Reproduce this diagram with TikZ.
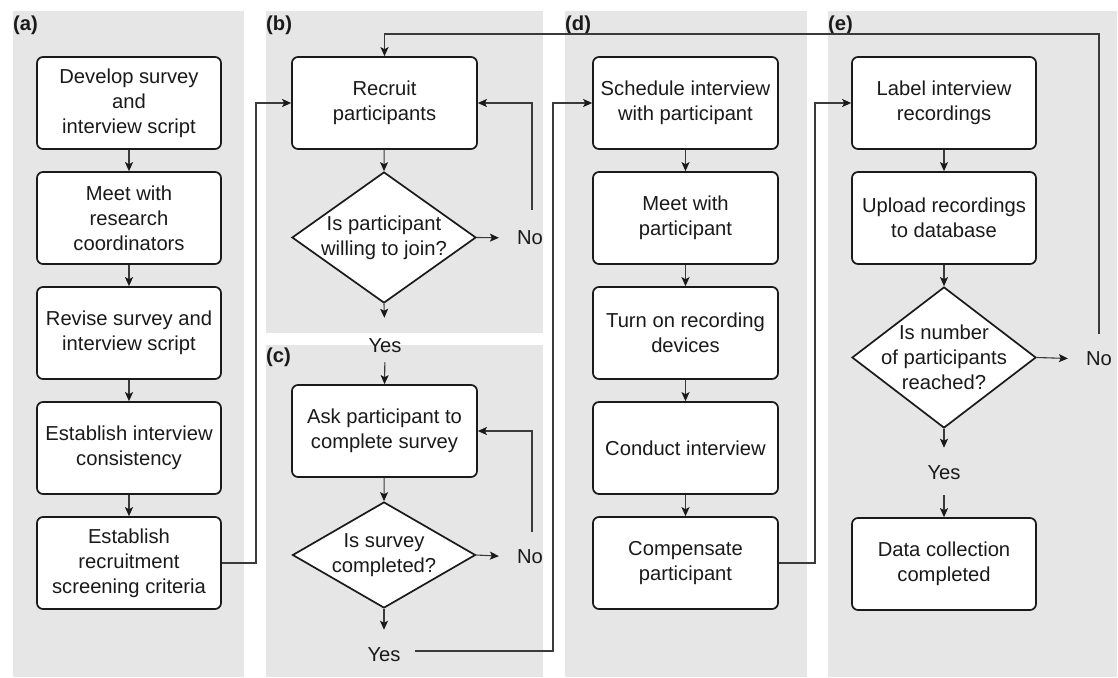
\documentclass[tikz,border=0pt]{standalone}
\usepackage{fontspec}
\setmainfont{Liberation Sans}
\usetikzlibrary{shapes.geometric,arrows.meta}
\definecolor{panelgray}{HTML}{E6E6E6}
\definecolor{conn}{HTML}{3A3A3A}
\definecolor{ink}{HTML}{1A1A1A}
\newcommand\myfs{\fontsize{20.2pt}{25pt}\selectfont}
\begin{document}
\begin{tikzpicture}[x=1pt,y=-1pt,
  panel/.style={fill=panelgray, draw=none},
  plabel/.style={anchor=west, inner sep=0pt, font=\myfs\bfseries, text=ink},
  box/.style={draw=ink, line width=1.7pt, rounded corners=6pt, fill=white,
    minimum width=184pt, minimum height=92pt, align=center, inner sep=0pt,
    font=\myfs, text=ink},
  dia/.style={diamond, draw=ink, line width=1.7pt, fill=white, inner sep=0pt},
  dtext/.style={align=center, inner sep=0pt, font=\myfs, text=ink},
  lbl/.style={inner sep=0pt, font=\myfs, text=ink},
  arr/.style={draw=conn, line width=1.1pt, -{Stealth[length=9pt,width=8pt,inset=2pt,color=ink]}},
  ln/.style={draw=conn, line width=1.1pt}
]
\useasboundingbox (0,0) rectangle (1118,677);
\fill[white] (0,0) rectangle (1118,677);

% panels
\path[panel] (13,11) rectangle (244,677);
\path[panel] (266,11) rectangle (543,333);
\path[panel] (266,345) rectangle (543,677);
\path[panel] (565,11) rectangle (807,677);
\path[panel] (828,11) rectangle (1117,677);

\node[plabel] (la) at (13,25) {(a)};
\node[plabel] (lb) at (266,25) {(b)};
\node[plabel] (lc) at (266,357) {(c)};
\node[plabel] (ld) at (565,25) {(d)};
\node[plabel] (le) at (828,25) {(e)};

% (a)
\node[box] (a1) at (129,103) {Develop survey\\and\\interview script};
\node[box] (a2) at (129,218) {Meet with\\research\\coordinators};
\node[box] (a3) at (129,333) {Revise survey and\\interview script};
\node[box] (a4) at (129,448) {Establish interview\\consistency};
\node[box] (a5) at (129,563) {Establish\\recruitment\\screening criteria};

% (b)
\node[box, minimum width=185pt] (rec) at (384.5,103) {Recruit\\participants};
\node[dia, minimum width=184pt, minimum height=131pt] (db) at (384,237.5) {};
\node[dtext] (dbt) at (db) {Is participant\\willing to join?};
\node[lbl] (nob) at (530,238) {No};
\node[lbl] (yb) at (385,346) {Yes};

% (c)
\node[box, minimum width=185pt] (ask) at (384.5,431) {Ask participant to\\complete survey};
\node[dia, minimum width=183pt, minimum height=106pt] (dc) at (384,555) {};
\node[dtext] (dct) at (dc) {Is survey\\completed?};
\node[lbl] (noc) at (530,557) {No};
\node[lbl] (yc) at (384,655) {Yes};

% (d)
\node[box, minimum width=185pt] (d1) at (685.5,103) {Schedule interview\\with participant};
\node[box, minimum width=185pt] (d2) at (685.5,218) {Meet with\\participant};
\node[box, minimum width=185pt] (d3) at (685.5,333) {Turn on recording\\devices};
\node[box, minimum width=185pt] (d4) at (685.5,448) {Conduct interview};
\node[box, minimum width=185pt] (d5) at (685.5,563) {Compensate\\participant};

% (e)
\node[box] (e1) at (944,103) {Label interview\\recordings};
\node[box] (e2) at (944,218) {Upload recordings\\to database};
\node[dia, minimum width=184pt, minimum height=141pt] (de) at (944,357.5) {};
\node[dtext] (det) at (de) {Is number\\of participants\\reached?};
\node[lbl] (noe) at (1099,359) {No};
\node[lbl] (ye) at (944,473) {Yes};
\node[box] (e3) at (944,564) {Data collection\\completed};

% connectors (a)
\draw[arr] (a1) -- (a2);
\draw[arr] (a2) -- (a3);
\draw[arr] (a3) -- (a4);
\draw[arr] (a4) -- (a5);
\coordinate (abend) at (256,563);
\draw[arr] (a5.east) -- (abend) |- (rec.west);

% (b)
\draw[arr] (rec) -- (db.north);
\draw[arr, shorten >=18pt] (db.east) -- (nob.west);
\coordinate (nbtop) at (532,210);
\draw[arr] (nbtop) |- (rec.east);
\draw[arr, shorten >=21pt] (db.south) -- (yb.north);

% (c)
\draw[arr, shorten <=9pt] (yb.south) -- (ask.north);
\draw[arr] (ask) -- (dc.north);
\draw[arr, shorten >=18pt] (dc.east) -- (noc.west);
\coordinate (nctop) at (532,532);
\draw[arr] (nctop) |- (ask.east);
\draw[arr, shorten >=18pt] (dc.south) -- (yc.north);
\coordinate (ycs) at (415,651);
\coordinate (cturn) at (553,651);
\draw[arr] (ycs) -- (cturn) |- (d1.west);

% (d)
\draw[arr] (d1) -- (d2);
\draw[arr] (d2) -- (d3);
\draw[arr] (d3) -- (d4);
\draw[arr] (d4) -- (d5);
\coordinate (dbend) at (815,563);
\draw[arr] (d5.east) -- (dbend) |- (e1.west);

% (e)
\draw[arr] (e1) -- (e2);
\draw[arr] (e2) -- (de.north);
\draw[arr, shorten >=18pt] (de.east) -- (noe.west);
\draw[arr, shorten >=18pt] (de.south) -- (ye.north);
\draw[arr, shorten <=15pt] (ye.south) -- (e3.north);
\coordinate (netop) at (1099,334);
\coordinate (topl) at (rec.north |- 0,34);
\draw[arr] (netop) |- (topl) -- (rec.north);
\end{tikzpicture}
\end{document}
